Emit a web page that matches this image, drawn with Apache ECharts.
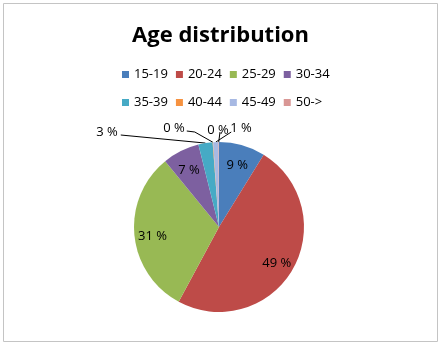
<!DOCTYPE html>
<html>
<head>
<meta charset="utf-8">
<script src="https://cdn.jsdelivr.net/npm/echarts@6/dist/echarts.min.js"></script>
<style>
  html, body { margin: 0; padding: 0; background: #fff; }
  #chart { width: 441px; height: 345px; }
</style>
</head>
<body>
<div id="chart"></div>
<script>
// Age groups and their shares (%)
const ageGroups = ['15-19', '20-24', '25-29', '30-34', '35-39', '40-44', '45-49', '50->'];
const shares = [8.8, 49, 31.2, 7, 2.7, 0.1, 1, 0.1];
const sliceColors = ['#4a7ebb', '#be4b48', '#98b954', '#7d60a0', '#46aac5', '#f69240', '#a7b9e3', '#d99795'];
// which slices get an outside label with a leader line
const outsideLabel = [false, false, false, false, true, true, true, true];

const font = '"Open Sans", "Liberation Sans", sans-serif';
const pieRadius = 85;
const pieCenter = [219, 227];

// rough label spots for the small slices (Excel placed them by hand)
const labelSpots = { 4: [107, 132], 5: [174, 128], 6: [241, 128], 7: [218, 130] };

const chart = echarts.init(document.getElementById('chart'), null, { renderer: 'canvas' });

const pct = p => Math.round(p.percent) + ' %';

const legendBase = {
    padding: 0, itemWidth: 7, itemHeight: 7, itemGap: 8, icon: 'rect',
    textStyle: { fontFamily: font, fontSize: 13, color: '#000' }
};

chart.setOption({
    backgroundColor: '#fff',
    animation: false,
    title: {
        text: 'Age distribution', left: 'center', top: 20,
        textStyle: { fontFamily: font, fontSize: 22, fontWeight: 'bold', color: '#000' }
    },
    legend: [
        Object.assign({ data: ageGroups.slice(0, 4), left: 122, top: 68 }, legendBase),
        Object.assign({ data: ageGroups.slice(4), left: 122, top: 96 }, legendBase)
    ],
    graphic: [{
        type: 'rect', shape: { x: 3.5, y: 3.5, width: 434, height: 338 },
        style: { fill: 'none', stroke: '#c4c4c4', lineWidth: 1 }, silent: true
    }],
    series: [
        {
            type: 'pie', radius: pieRadius, center: pieCenter,
            startAngle: 90, clockwise: true, avoidLabelOverlap: false,
            data: ageGroups.map((g, i) => ({
                name: g, value: shares[i],
                itemStyle: { color: sliceColors[i] },
                label: { show: outsideLabel[i] },
                labelLine: { show: outsideLabel[i] }
            })),
            label: {
                position: 'outside', formatter: pct,
                fontFamily: font, fontSize: 13, color: '#000'
            },
            labelLine: { lineStyle: { color: '#000', width: 1 }, length: 10, length2: 10 },
            labelLayout: function (p) {
                const spot = labelSpots[p.dataIndex];
                if (!spot) return {};
                const pts = p.labelLinePoints;
                const halfW = p.labelRect.width / 2;
                const start = pts ? pts[0] : [spot[0], spot[1] + 15];
                let end, bend;
                if (p.dataIndex === 4) {
                    end = [spot[0] + halfW + 3, spot[1] + 3];
                    bend = end;
                } else if (p.dataIndex === 5) {
                    end = [spot[0] + halfW + 2, spot[1] + 3];
                    bend = [end[0] + 8, end[1] + 1];
                } else if (p.dataIndex === 6) {
                    end = [spot[0] - halfW + 1, spot[1] + 4];
                    bend = end;
                } else {
                    end = [spot[0] + 2, spot[1] + 2];
                    bend = end;
                }
                return {
                    x: spot[0], y: spot[1], align: 'center', verticalAlign: 'middle',
                    labelLinePoints: [start, bend, end]
                };
            }
        },
        {
            // transparent twin, only used to place the inner labels at ~3/4 radius
            type: 'pie', radius: [0, pieRadius * 1.5], center: pieCenter,
            startAngle: 90, clockwise: true, silent: true, legendHoverLink: false,
            data: ageGroups.map((g, i) => ({
                name: g, value: shares[i],
                label: { show: !outsideLabel[i] }
            })),
            itemStyle: { color: 'rgba(0,0,0,0)', borderWidth: 0 },
            label: {
                position: 'inside', formatter: pct, offset: [0, 3],
                fontFamily: font, fontSize: 13, color: '#000'
            },
            labelLine: { show: false }
        }
    ]
});
</script>
</body>
</html>
